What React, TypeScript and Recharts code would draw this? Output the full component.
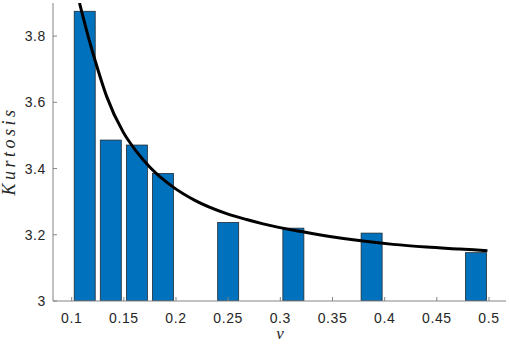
import React from 'react';
import { ComposedChart, Bar, Line, XAxis, YAxis } from 'recharts';

// bar positions (nu) and kurtosis values
const NU = [0.1125, 0.1375, 0.1625, 0.1875, 0.25, 0.3125, 0.3875, 0.4875];
const KURT = [3.875, 3.486, 3.471, 3.385, 3.237, 3.22, 3.205, 3.146];

// fitted curve, sampled by eye
const CURVE_NU = [0.1075, 0.1166, 0.125, 0.1335, 0.1494, 0.162, 0.175, 0.1973, 0.2181, 0.2485, 0.2676, 0.2835, 0.3155, 0.3474, 0.3793, 0.408, 0.44, 0.4719, 0.4985];
const CURVE_K = [3.9, 3.79, 3.7, 3.618, 3.51, 3.452, 3.404, 3.344, 3.304, 3.264, 3.246, 3.233, 3.212, 3.195, 3.181, 3.171, 3.163, 3.157, 3.152];

const X_TICKS = [0.1, 0.15, 0.2, 0.25, 0.3, 0.35, 0.4, 0.45, 0.5];
const Y_TICKS = [3, 3.2, 3.4, 3.6, 3.8];

const X_DOMAIN: [number, number] = [0.0821, 0.5163];
const Y_DOMAIN: [number, number] = [3, 3.9];

const AXIS_GREY = '#858585';
const BAR_W = 21;
const TICK_FONT = { fontFamily: 'Liberation Sans, Arial, sans-serif', fontSize: 14, fill: '#262626', letterSpacing: 0.6 };

// recharts squeezes bars on a numeric axis, so draw them at a fixed width around the scaled centre
const FixedBar = (props: any) => {
  const { x, y, width, height } = props;
  if (height == null || isNaN(height)) return null;
  const cx = x + width / 2;
  return <rect x={cx - BAR_W / 2} y={y} width={BAR_W} height={height} fill="#0072BD" stroke="#1f2a33" strokeWidth={0.8} />;
};

const App: React.FC = () => {
  const bars = NU.map((nu, i) => ({ nu, k: KURT[i] }));
  const curve = CURVE_NU.map((nu, i) => ({ nu, k: CURVE_K[i] }));

  return (
    <div style={{ position: 'absolute', left: 0, top: 0, background: '#fff' }}>
      <ComposedChart width={510} height={345} data={bars} margin={{ top: 3, right: 4, bottom: 0, left: 0 }}>
        <XAxis
          dataKey="nu"
          type="number"
          domain={X_DOMAIN}
          allowDataOverflow
          ticks={X_TICKS}
          tickFormatter={(v: number) => String(v)}
          height={44}
          tickSize={-4}
          tickMargin={16}
          stroke={AXIS_GREY}
          tick={TICK_FONT}
          label={{
            content: () => (
              <text x={280} y={339} textAnchor="middle" fontFamily="Liberation Serif, serif" fontStyle="italic" fontSize={17} fill="#262626">
                ν
              </text>
            ),
          }}
        />
        <XAxis
          xAxisId="top"
          orientation="top"
          dataKey="nu"
          type="number"
          domain={X_DOMAIN}
          allowDataOverflow
          ticks={X_TICKS}
          height={0}
          tickSize={-4}
          tick={false}
          stroke={AXIS_GREY}
        />
        <YAxis
          type="number"
          domain={Y_DOMAIN}
          allowDataOverflow
          ticks={Y_TICKS}
          tickFormatter={(v: number) => String(v)}
          width={53}
          tickSize={-4}
          tickMargin={11}
          stroke={AXIS_GREY}
          tick={TICK_FONT}
          label={{
            content: () => (
              <text
                x={15}
                y={151}
                transform="rotate(-90 15 151)"
                textAnchor="middle"
                fontFamily="Liberation Serif, serif"
                fontStyle="italic"
                fontSize={18}
                letterSpacing={3.5}
                fill="#262626"
              >
                Kurtosis
              </text>
            ),
          }}
        />
        <YAxis
          yAxisId="right"
          orientation="right"
          type="number"
          domain={Y_DOMAIN}
          allowDataOverflow
          ticks={Y_TICKS}
          width={0}
          tickSize={-4}
          tick={false}
          stroke={AXIS_GREY}
        />
        <Bar dataKey="k" fill="#0072BD" shape={FixedBar} isAnimationActive={false} />
        <Line data={curve} dataKey="k" type="monotone" stroke="#000" strokeWidth={3} dot={false} isAnimationActive={false} />
      </ComposedChart>
    </div>
  );
};

export default App;
